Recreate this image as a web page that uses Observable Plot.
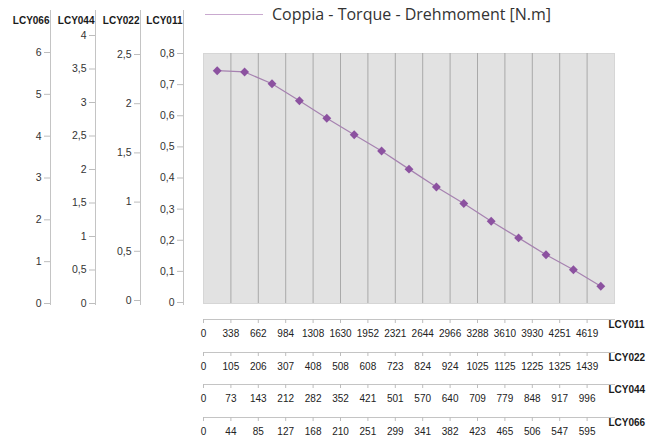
<!DOCTYPE html>
<html><head><meta charset="utf-8">
<script src="https://cdn.jsdelivr.net/npm/d3@7"></script>
<script src="https://cdn.jsdelivr.net/npm/@observablehq/plot@0.6"></script>
<style>
body{margin:0;background:#fff;}
#chart{position:relative;width:649px;height:444px;overflow:hidden;background:#fff;}
#chart svg{position:absolute;left:0;top:0;}
#legend{position:absolute;left:205px;top:3px;display:flex;align-items:center;font-family:"Open Sans",sans-serif;font-size:16px;color:#333;white-space:nowrap;}
#legend .sw{display:inline-block;width:58px;height:0;border-top:1px solid #c9a9cf;margin-right:9px;}
</style></head><body><div id="chart"><div id="legend"><span class="sw"></span><span id="legtxt"></span></div></div>
<script>
// ---- data ----
const legendLabel = "Coppia - Torque - Drehmoment [N.m]";
const torque = [0.745,0.741,0.703,0.649,0.593,0.540,0.488,0.430,0.373,0.320,0.263,0.210,0.156,0.108,0.055];
const models = ["LCY011","LCY022","LCY044","LCY066"];
const rpmLCY011 = [0,338,662,984,1308,1630,1952,2321,2644,2966,3288,3610,3930,4251,4619];
const rpmLCY022 = [0,105,206,307,408,508,608,723,824,924,1025,1125,1225,1325,1439];
const rpmLCY044 = [0,73,143,212,282,352,421,501,570,640,709,779,848,917,996];
const rpmLCY066 = [0,44,85,127,168,210,251,299,341,382,423,465,506,547,595];
const ticksLCY011 = [0,0.1,0.2,0.3,0.4,0.5,0.6,0.7,0.8];
const ticksLCY022 = [0,0.5,1,1.5,2,2.5];
const ticksLCY044 = [0,0.5,1,1.5,2,2.5,3,3.5,4];
const ticksLCY066 = [0,1,2,3,4,5,6];

// ---- layout ----
const W = 649, H = 444;
const font = '"Liberation Sans",Arial,sans-serif';
const chart = document.getElementById("chart");
document.getElementById("legtxt").textContent = legendLabel;
const comma = d => String(d).replace(".", ",");
const baseStyle = {background:"transparent", fontFamily:font, fontSize:"10px", color:"#333", overflow:"visible"};

const n = torque.length;
const table = torque.map((t, i) => ({step: i + 0.5, torque: t}));

// main plot area
chart.appendChild(Plot.plot({
  width: W, height: H,
  marginLeft: 203, marginRight: 35, marginTop: 53, marginBottom: 141,
  style: baseStyle,
  x: {domain: [0, n], axis: null},
  y: {domain: [0, 0.8], axis: null},
  marks: [
    Plot.frame({fill: "#e2e2e2", stroke: "#d6d6d6"}),
    Plot.ruleX(d3.range(1, n), {stroke: "#a9a9a9", strokeWidth: 1}),
    Plot.line(table, {x: "step", y: "torque", stroke: "#a682b0", strokeWidth: 1.2}),
    Plot.dot(table, {x: "step", y: "torque", symbol: "diamond2", r: 4, fill: "#8c52a0", stroke: "none"})
  ]
}));

// left vertical axes
const leftAxes = [
  {name: models[3], ticks: ticksLCY066, x: 50,  range: [303, 52]},
  {name: models[2], ticks: ticksLCY044, x: 95,  range: [303, 35]},
  {name: models[1], ticks: ticksLCY022, x: 140, range: [300, 54]},
  {name: models[0], ticks: ticksLCY011, x: 183, range: [302, 53]}
];
for (const a of leftAxes) {
  chart.appendChild(Plot.plot({
    width: W, height: H,
    marginLeft: a.x, marginRight: W - a.x - 1, marginTop: 10, marginBottom: 139,
    style: baseStyle,
    x: {domain: [0, 1], axis: null},
    y: {domain: [0, d3.max(a.ticks)], range: a.range, axis: null},
    marks: [
      Plot.ruleX([0], {stroke: "#c4c4c4"}),
      Plot.axisY(a.ticks, {anchor: "left", tickSize: 6, tickPadding: 3, tickFormat: comma, stroke: "#bdbdbd", fill: "#333", fontSize: 10.5, label: null}),
      Plot.text([a.name], {frameAnchor: "top-left", textAnchor: "end", dx: -1, dy: 6, fontWeight: "bold", fill: "#1a1a1a", fontSize: 10})
    ]
  }));
}

// bottom horizontal speed axes
const bottomAxes = [
  {name: models[0], rpm: rpmLCY011, y: 319},
  {name: models[1], rpm: rpmLCY022, y: 352},
  {name: models[2], rpm: rpmLCY044, y: 384},
  {name: models[3], rpm: rpmLCY066, y: 417}
];
for (const b of bottomAxes) {
  chart.appendChild(Plot.plot({
    width: W, height: H,
    marginLeft: 203, marginRight: 35, marginTop: b.y - 5, marginBottom: H - b.y,
    style: baseStyle,
    x: {domain: [0, n], axis: null},
    y: {domain: [0, 1], axis: null},
    marks: [
      Plot.frame({anchor: "bottom", stroke: "#c4c4c4"}),
      Plot.axisX(d3.range(n), {anchor: "bottom", tickSize: 4, tickPadding: 6, tickFormat: i => String(b.rpm[i]), stroke: "#bdbdbd", fill: "#222", fontSize: 10, label: null}),
      Plot.text([b.name], {frameAnchor: "bottom-right", textAnchor: "start", dx: -6, dy: 8, fontWeight: "bold", fill: "#1a1a1a", fontSize: 10})
    ]
  }));
}
</script></body></html>
